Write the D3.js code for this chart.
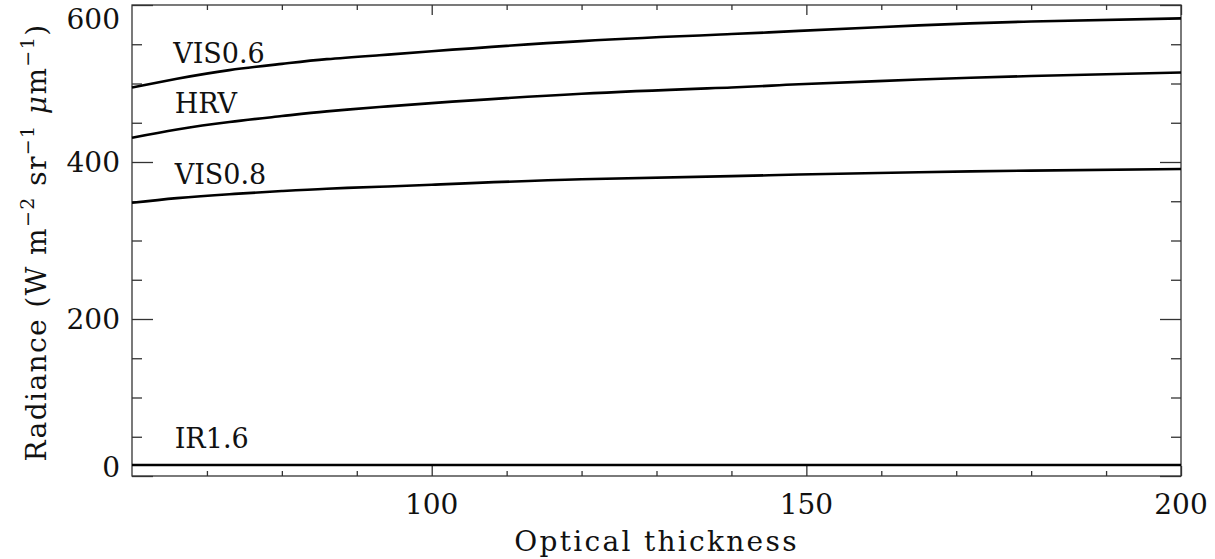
<!DOCTYPE html>
<html>
<head>
<meta charset="utf-8">
<script src="https://cdn.jsdelivr.net/npm/d3@7"></script>
<style>
  body { margin: 0; background: #fff; }
  text { font-family: "DejaVu Serif", serif; fill: #111; }
  .axis path, .axis line { stroke: #333; stroke-width: 1.3; }
  .curve { fill: none; stroke: #000; stroke-width: 2.6; }
</style>
</head>
<body>
<svg id="chart"></svg>
<script>
w = 1215;
h = 559;
margin = {top: 5, right: 34, bottom: 83, left: 132};

// optical thickness sample points
var tau = [60, 66, 73, 80, 86, 93, 100, 120, 140, 149, 165, 180, 200];
var vis06 = [495, 506, 517, 525, 531, 536, 541, 554, 563, 567, 574, 579, 583];
var hrv   = [431, 441.5, 451, 458.5, 464.5, 470, 475, 487, 495, 499, 505, 509.5, 514];
var vis08 = [348, 354, 359, 363, 366, 368.5, 371, 378, 382, 384, 387, 389, 391];
var ir16  = [14, 14, 14, 14, 14, 14, 14, 14, 14, 14, 14, 14, 14];

var names = ['VIS0.6', 'HRV', 'VIS0.8', 'IR1.6'];
var labelTau = [65.5, 65.7, 65.7, 65.7];
var labelVal = [526, 462, 372, 36];

var xMajor = [100, 150, 200];
var xMinor = [70, 80, 90, 110, 120, 130, 140, 160, 170, 180, 190];
var yMajor = [0, 200, 400, 600];
var yMinor = [50, 100, 150, 250, 300, 350, 450, 500, 550];

var svg = d3.select('#chart').attr('width', w).attr('height', h);

var xScale = d3.scaleLinear().domain([60, 200]).range([margin.left, w - margin.right]);
var yScale = d3.scaleLinear().domain([0, 600]).range([h - margin.bottom, margin.top]);

var x0 = xScale.range()[0], x1 = xScale.range()[1];
var y0 = yScale.range()[0], y1 = yScale.range()[1];

// ticks: IDL style, all four sides, pointing inward
function ticks(g, axisFn, scale, vals, len) {
	g.call(axisFn(scale).tickValues(vals).tickSize(-len).tickFormat(''));
	g.select('.domain').remove();
}
svg.append('g').attr('class', 'axis').attr('transform', 'translate(0,' + y0 + ')')
	.call(ticks, d3.axisBottom, xScale, xMajor, 10);
svg.append('g').attr('class', 'axis').attr('transform', 'translate(0,' + y0 + ')')
	.call(ticks, d3.axisBottom, xScale, xMinor, 5);
svg.append('g').attr('class', 'axis').attr('transform', 'translate(0,' + y1 + ')')
	.call(ticks, d3.axisTop, xScale, xMajor, 10);
svg.append('g').attr('class', 'axis').attr('transform', 'translate(0,' + y1 + ')')
	.call(ticks, d3.axisTop, xScale, xMinor, 5);
svg.append('g').attr('class', 'axis').attr('transform', 'translate(' + x0 + ',0)')
	.call(ticks, d3.axisLeft, yScale, yMajor, 21);
svg.append('g').attr('class', 'axis').attr('transform', 'translate(' + x0 + ',0)')
	.call(ticks, d3.axisLeft, yScale, yMinor, 10);
svg.append('g').attr('class', 'axis').attr('transform', 'translate(' + x1 + ',0)')
	.call(ticks, d3.axisRight, yScale, yMajor, 21);
svg.append('g').attr('class', 'axis').attr('transform', 'translate(' + x1 + ',0)')
	.call(ticks, d3.axisRight, yScale, yMinor, 10);

svg.append('rect')
	.attr('x', x0).attr('y', y1)
	.attr('width', x1 - x0).attr('height', y0 - y1)
	.attr('fill', 'none').attr('stroke', '#333').attr('stroke-width', 1.3);

// tick labels
svg.selectAll('.xlab').data(xMajor).enter().append('text')
	.attr('class', 'xlab')
	.attr('x', function(d) { return xScale(d); })
	.attr('y', y0 + 38)
	.attr('text-anchor', 'middle')
	.attr('font-size', '28px')
	.text(function(d) { return d; });

svg.selectAll('.ylab').data(yMajor).enter().append('text')
	.attr('class', 'ylab')
	.attr('x', x0 - 12)
	.attr('y', function(d) {
		// end labels sit inside the box like the original
		var off = d == 0 ? -9 : (d == 600 ? 14 : 0);
		return yScale(d) + off;
	})
	.attr('dy', '0.36em')
	.attr('text-anchor', 'end')
	.attr('font-size', '28px')
	.text(function(d) { return d; });

// axis titles
svg.append('text')
	.attr('x', (x0 + x1) / 2)
	.attr('y', 551)
	.attr('text-anchor', 'middle')
	.attr('font-size', '28px')
	.attr('letter-spacing', '2.3px')
	.text('Optical thickness');

var yt = svg.append('text')
	.attr('transform', 'translate(46,' + ((y0 + y1) / 2 + 2) + ') rotate(-90)')
	.attr('text-anchor', 'middle')
	.attr('font-size', '28px')
	.attr('letter-spacing', '1.4px');
yt.append('tspan').text('Radiance (W m');
yt.append('tspan').attr('dy', -12).attr('font-size', '19px').text('\u22122');
yt.append('tspan').attr('dy', 12).text(' sr');
yt.append('tspan').attr('dy', -12).attr('font-size', '19px').text('\u22121');
yt.append('tspan').attr('dy', 12).text(' ');
yt.append('tspan').attr('font-style', 'italic').text('\u03bc');
yt.append('tspan').text('m');
yt.append('tspan').attr('dy', -12).attr('font-size', '19px').text('\u22121');
yt.append('tspan').attr('dy', 12).text(')');

// curves
var series = [vis06, hrv, vis08, ir16];
var line = d3.line()
	.x(function(d, i) { return xScale(tau[i]); })
	.y(function(d) { return yScale(d); })
	.curve(d3.curveNatural);

svg.selectAll('.curve').data(series).enter().append('path')
	.attr('class', 'curve')
	.attr('d', line);

svg.selectAll('.clab').data(names).enter().append('text')
	.attr('class', 'clab')
	.attr('x', function(d, i) { return xScale(labelTau[i]); })
	.attr('y', function(d, i) { return yScale(labelVal[i]); })
	.attr('font-size', '27px')
	.text(function(d) { return d; });
</script>
</body>
</html>
